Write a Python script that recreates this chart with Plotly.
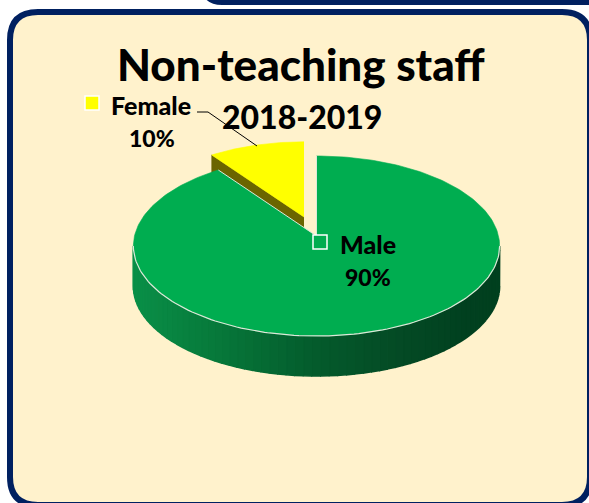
import numpy as np
import plotly.graph_objects as go

categories = ['Male', 'Female']
values = [90, 10]
labels = ['90%', '10%']
title_lines = ['Non-teaching staff', '2018-2019']

W, H = 589, 503
FONT = 'Lato'
NAVY = '#002060'
PANEL = '#FFF2CC'
GREEN = '#00AD50'
YELLOW = '#FFFF00'
OLIVE = '#6B6500'
EDGE = '#DDE8D8'

# tilted pie: projection of a unit circle, g gives the perspective
A, K, G = 182, 88.9, 0.111
DEPTH = 40
MALE_APEX = (316.5, 236)
FEMALE_APEX = (304, 217)
FEMALE_SCALE = 0.94


def project(theta, apex, scale=1.0):
    t = np.radians(theta)
    d = 1 + G * np.cos(t)
    x = apex[0] + scale * A * np.sin(t) / d
    y = apex[1] - scale * K * np.cos(t) / d
    return x, y


def poly(fig, x, y, color, width=0.6):
    fig.add_trace(go.Scatter(
        x=x, y=y, mode='lines', fill='toself', fillcolor=color,
        line=dict(color=color, width=width), hoverinfo='skip',
    ))


def wall_color(x):
    stops = [134, 220, 320, 403, 470, 500]
    reds = [10, 7, 4, 4, 1, 2]
    greens = [144, 120, 90, 74, 64, 64]
    blues = [72, 58, 44, 37, 31, 31]
    return 'rgb(%d,%d,%d)' % (np.interp(x, stops, reds),
                              np.interp(x, stops, greens),
                              np.interp(x, stops, blues))


male_sweep = 360 * values[0] / sum(values)

fig = go.Figure()

# female slice, pulled out of the pie
fx, fy = project(np.linspace(male_sweep, 360, 40), FEMALE_APEX, FEMALE_SCALE)
tip_x, tip_y = fx[0], fy[0]
poly(fig,
     [FEMALE_APEX[0], tip_x, tip_x, FEMALE_APEX[0]],
     [FEMALE_APEX[1], tip_y, tip_y + DEPTH, FEMALE_APEX[1] + DEPTH],
     OLIVE)
poly(fig, [FEMALE_APEX[0], *fx], [FEMALE_APEX[1], *fy], YELLOW)

# male wall, in thin strips for the gradient
edges = np.linspace(96.4, 263.6, 70)
for a0, a1 in zip(edges[:-1], edges[1:]):
    xs, ys = project(np.linspace(a0, a1, 4), MALE_APEX)
    poly(fig,
         [*xs, *xs[::-1]],
         [*ys, *(ys[::-1] + DEPTH)],
         wall_color(xs.mean()), width=1.6)

# male top
mx, my = project(np.linspace(0, male_sweep, 240), MALE_APEX)
poly(fig, [MALE_APEX[0], *mx], [MALE_APEX[1], *my], GREEN)

# light edge along the front rim and the cut
rx, ry = project(np.linspace(96.4, 263.6, 120), MALE_APEX)
fig.add_trace(go.Scatter(x=rx, y=ry, mode='lines',
                         line=dict(color=EDGE, width=1.2), hoverinfo='skip'))
fig.add_trace(go.Scatter(x=[mx[0], MALE_APEX[0], mx[-1]],
                         y=[my[0], MALE_APEX[1], my[-1]], mode='lines',
                         line=dict(color=EDGE, width=1), hoverinfo='skip'))

# leader for the female label
fig.add_trace(go.Scatter(x=[197, 208, 257], y=[112, 112, 146], mode='lines',
                         line=dict(color='#000000', width=1), hoverinfo='skip'))

# legend keys beside the data labels
key_colors = [GREEN, YELLOW]
key_x = [320, 92]
key_y = [242, 103]
fig.add_trace(go.Scatter(
    x=key_x, y=key_y, mode='markers', hoverinfo='skip',
    marker=dict(symbol='square', size=14, color=key_colors,
                line=dict(color='#FFFFFF', width=1.5)),
))

texts = [
    (title_lines[0], 301, 64, 44),
    (title_lines[1], 302, 116, 32),
    (categories[1], 151, 105, 25),
    (labels[1], 152, 138, 23),
    (categories[0], 368, 244, 25),
    (labels[0], 368, 277, 23),
]
for text, x, y, size in texts:
    fig.add_annotation(x=x, y=y, text=text, showarrow=False,
                       xanchor='center', yanchor='middle',
                       font=dict(family=FONT, size=size, color='#000000',
                                 weight=900))

panel = ('M 10 40 Q 10 12 38 12 L 562 12 Q 590 12 590 40 '
         'L 590 477 Q 590 505 562 505 L 38 505 Q 10 505 10 477 Z')
top_bar = 'M 205 -2 Q 210 5 222 5 L 592 5 L 592 -2 Z'
fig.update_layout(
    width=W, height=H,
    margin=dict(l=0, r=0, t=0, b=0),
    paper_bgcolor='#FFFFFF',
    plot_bgcolor='#FFFFFF',
    showlegend=False,
    xaxis=dict(range=[0, W], visible=False, fixedrange=True),
    yaxis=dict(range=[H, 0], visible=False, fixedrange=True),
    shapes=[
        dict(type='path', path=panel, fillcolor=PANEL, layer='below',
             line=dict(color=NAVY, width=6)),
        dict(type='path', path=top_bar, fillcolor=NAVY, layer='below',
             line=dict(width=0)),
    ],
)

fig.write_html('out.html', config={'displayModeBar': False},
               post_script="document.body.style.margin='0';document.body.style.overflow='hidden';")
